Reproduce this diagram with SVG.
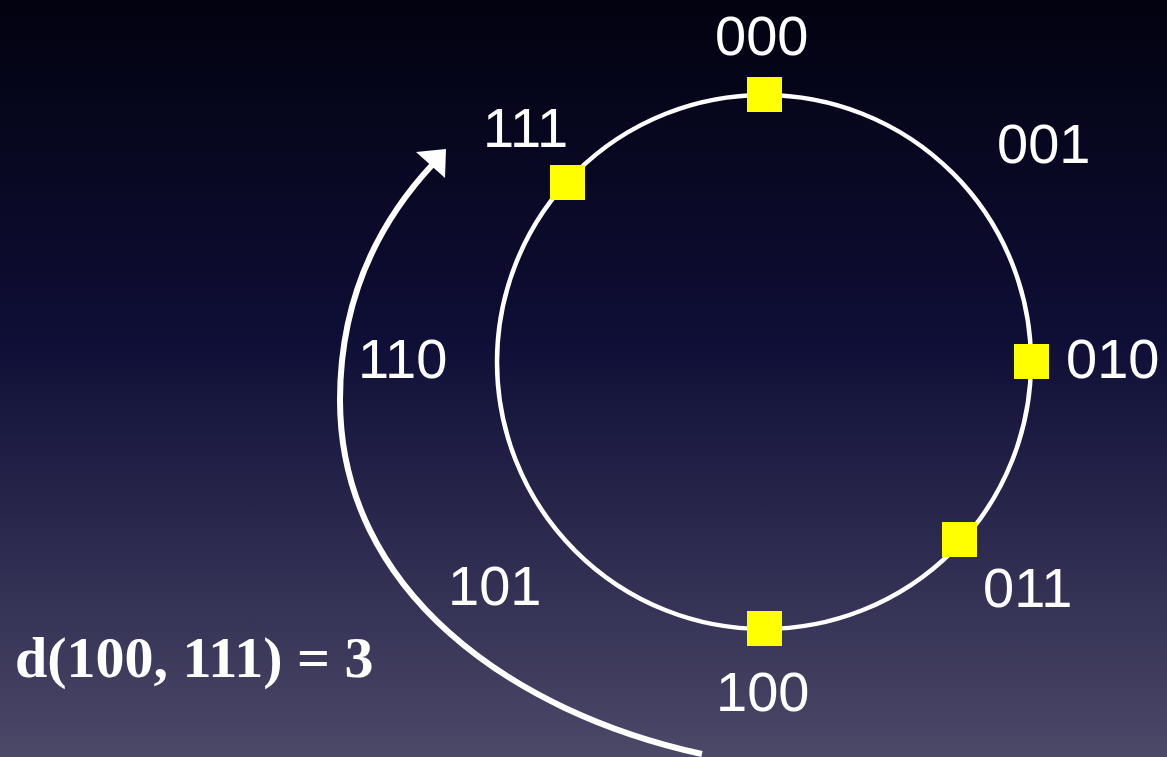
<svg xmlns="http://www.w3.org/2000/svg" width="1167" height="757" viewBox="0 0 1167 757">
<defs>
<linearGradient id="bg" x1="0" y1="0" x2="0" y2="1">
<stop offset="0" stop-color="#020210"/>
<stop offset="0.45" stop-color="#0f0e36"/>
<stop offset="1" stop-color="#4b4868"/>
</linearGradient>
<style>
.lbl{font-family:"Liberation Sans",Arial,sans-serif;font-size:56px;fill:#ffffff}
.node{fill:#ffff00}
.ring{fill:none;stroke:#ffffff;stroke-width:4.5}
.arc{fill:none;stroke:#ffffff;stroke-width:6}
.formula{font-family:"Liberation Serif","Times New Roman",serif;font-size:58px;font-weight:bold;fill:#ffffff}
</style>
</defs>
<rect x="0" y="0" width="1167" height="757" fill="url(#bg)"/>
<g id="connectors">
<circle class="ring" cx="764" cy="362" r="267"/>
<path class="arc" d="M 702 754 C 510 712 340 590 340 400 C 340 290 385.4 215 433 164"/>
<polygon points="446,149 416,152 445,178" fill="#ffffff"/>
</g>
<g id="n000"><rect class="node" x="747" y="77" width="35" height="35"/><text class="lbl" x="715" y="55">000</text></g>
<g id="n001"><text class="lbl" x="997" y="163">001</text></g>
<g id="n010"><rect class="node" x="1014" y="344" width="35" height="35"/><text class="lbl" x="1066" y="378">010</text></g>
<g id="n011"><rect class="node" x="942" y="522" width="35" height="35"/><text class="lbl" x="983" y="607">011</text></g>
<g id="n100"><rect class="node" x="747" y="611" width="35" height="35"/><text class="lbl" x="716" y="711">100</text></g>
<g id="n101"><text class="lbl" x="448" y="605">101</text></g>
<g id="n110"><text class="lbl" x="358" y="378">110</text></g>
<g id="n111"><rect class="node" x="550" y="165" width="35" height="35"/><text class="lbl" x="483" y="147">111</text></g>
<g id="formula"><text class="formula" x="15" y="677">d(100, 111) = 3</text></g>
</svg>
